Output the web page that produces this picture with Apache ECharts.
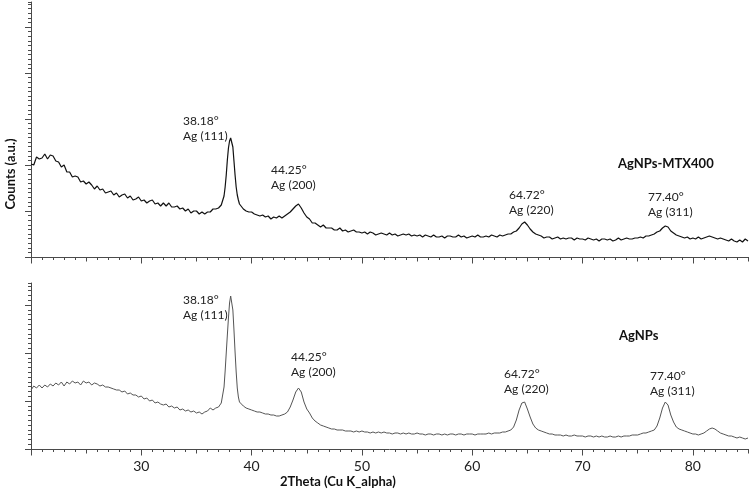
<!DOCTYPE html>
<html>
<head>
<meta charset="utf-8">
<script src="https://cdn.jsdelivr.net/npm/echarts@6/dist/echarts.min.js"></script>
<style>html,body{margin:0;padding:0;background:#fff}#c{width:756px;height:492px}</style>
</head>
<body>
<div id="c"></div>
<script>
// 2Theta positions (degrees)
const twoTheta = [
20.00,20.25,20.50,20.75,
21.00,21.25,21.50,21.75,
22.00,22.25,22.50,22.75,
23.00,23.25,23.50,23.75,
24.00,24.25,24.50,24.75,
25.00,25.25,25.50,25.75,
26.00,26.25,26.50,26.75,
27.00,27.25,27.50,27.75,
28.00,28.25,28.50,28.75,
29.00,29.25,29.50,29.75,
30.00,30.25,30.50,30.75,
31.00,31.25,31.50,31.75,
32.00,32.25,32.50,32.75,
33.00,33.25,33.50,33.75,
34.00,34.25,34.50,34.75,
35.00,35.25,35.50,35.75,
36.00,36.25,36.50,36.75,
37.00,37.25,
37.50,37.60,37.70,37.80,37.90,38.00,38.10,38.20,38.30,38.40,38.50,38.60,38.70,38.80,38.90,39.00,
39.25,39.50,39.75,
40.00,40.25,40.50,40.75,
41.00,41.25,41.50,41.75,
42.00,42.25,42.50,42.75,
43.00,43.25,43.50,43.75,
44.00,44.25,44.50,44.75,
45.00,45.25,45.50,45.75,
46.00,46.25,46.50,46.75,
47.00,47.25,47.50,47.75,
48.00,48.25,48.50,48.75,
49.00,49.25,49.50,49.75,
50.00,50.25,50.50,50.75,
51.00,51.25,51.50,51.75,
52.00,52.25,52.50,52.75,
53.00,53.25,53.50,53.75,
54.00,54.25,54.50,54.75,
55.00,55.25,55.50,55.75,
56.00,56.25,56.50,56.75,
57.00,57.25,57.50,57.75,
58.00,58.25,58.50,58.75,
59.00,59.25,59.50,59.75,
60.00,60.25,60.50,60.75,
61.00,61.25,61.50,61.75,
62.00,62.25,62.50,62.75,
63.00,63.25,63.50,63.75,
64.00,64.25,64.50,64.75,
65.00,65.25,65.50,65.75,
66.00,66.25,66.50,66.75,
67.00,67.25,67.50,67.75,
68.00,68.25,68.50,68.75,
69.00,69.25,69.50,69.75,
70.00,70.25,70.50,70.75,
71.00,71.25,71.50,71.75,
72.00,72.25,72.50,72.75,
73.00,73.25,73.50,73.75,
74.00,74.25,74.50,74.75,
75.00,75.25,75.50,75.75,
76.00,76.25,76.50,76.75,
77.00,77.25,77.50,77.75,
78.00,78.25,78.50,78.75,
79.00,79.25,79.50,79.75,
80.00,80.25,80.50,80.75,
81.00,81.25,81.50,81.75,
82.00,82.25,82.50,82.75,
83.00,83.25,83.50,83.75,
84.00,84.25,84.50,84.75,
85.00
];

// AgNPs-MTX400 counts (a.u.), upper panel
const mtx400Counts = [
93,92,100,98,
99,103,98,102,
101,96,95,90,
92,85,85,80,
81,80,75,76,
73,75,72,68,
71,67,68,64,
65,66,62,64,
60,62,63,59,
61,57,58,60,
56,57,54,56,
57,53,54,51,
54,51,54,50,
50,51,48,49,
46,48,44,46,
46,43,45,43,
45,45,48,48,
49,52,
61,70,82,97,109,116,119,118,110,96,82,70,62,57,53,51,
48,46,45,
45,43,42,41,
42,40,41,38,
40,39,41,39,
41,43,45,48,
51,53,49,44,
40,38,34,34,
32,30,32,29,
29,29,27,27,
29,26,27,25,
26,27,25,25,
24,25,23,25,
24,22,23,24,
23,22,24,22,
23,21,22,23,
22,23,21,22,
21,22,20,22,
21,20,22,20,
20,21,19,21,
21,20,20,22,
20,21,19,20,
21,20,22,20,
20,21,20,22,
21,20,22,21,
22,23,23,25,
26,29,33,35,
32,28,25,23,
22,21,19,20,
20,18,19,20,
18,19,18,19,
19,17,19,18,
18,17,19,18,
17,18,16,18,
18,17,18,16,
17,19,17,18,
19,18,18,19,
19,20,19,21,
21,22,23,25,
26,29,31,30,
26,24,22,21,
20,19,20,18,
19,18,20,18,
19,20,21,20,
19,18,19,18,
17,16,18,16,
15,17,15,18,
16
];

// AgNPs counts (a.u.), lower panel
const agnpsCounts = [
59,63,61,64,
61,64,62,65,
63,66,64,67,
63,67,65,68,
66,67,64,68,
66,67,64,66,
65,63,64,62,
62,61,60,59,
59,57,58,55,
56,54,54,52,
53,50,51,48,
49,46,47,45,
44,45,42,43,
41,42,39,40,
38,39,37,38,
36,37,35,37,
38,41,39,41,
42,46,
62,78,96,114,131,146,153,152,139,119,97,77,61,52,47,45,
43,41,40,
39,38,37,37,
36,35,35,34,
34,33,33,34,
35,37,42,49,
57,61,57,47,
40,36,31,28,
26,24,23,22,
21,20,20,19,
19,19,18,18,
18,17,18,17,
18,17,17,16,
17,16,17,16,
17,16,16,15,
16,16,15,16,
15,16,15,15,
16,15,15,14,
15,15,14,15,
15,14,15,14,
15,15,14,15,
15,14,15,15,
15,14,15,15,
15,15,16,15,
16,16,16,17,
17,18,19,22,
29,39,46,47,
40,32,25,21,
19,18,17,16,
15,15,14,14,
14,13,14,13,
13,14,13,13,
13,12,13,13,
12,13,12,13,
12,12,13,12,
12,13,12,13,
13,13,14,14,
14,15,16,16,
17,18,19,23,
31,41,47,44,
34,27,22,20,
19,18,17,16,
15,15,14,15,
16,18,20,21,
20,18,16,15,
14,13,13,12,
11,12,11,10,
11
];

const xMajorTicks = [20, 30, 40, 50, 60, 70, 80];
const xTickLabels = [30, 40, 50, 60, 70, 80];
const topMajorY = [0, 46, 92, 138, 184, 230];
const botMajorY = [0, 48, 96, 144];

const peakLabels = [
  { deg: '38.18°', hkl: 'Ag (111)', x: 183, y: 121 },
  { deg: '44.25°', hkl: 'Ag (200)', x: 271, y: 170 },
  { deg: '64.72°', hkl: 'Ag (220)', x: 509, y: 195 },
  { deg: '77.40°', hkl: 'Ag (311)', x: 648, y: 197 },
  { deg: '38.18°', hkl: 'Ag (111)', x: 183, y: 300 },
  { deg: '44.25°', hkl: 'Ag (200)', x: 291, y: 357 },
  { deg: '64.72°', hkl: 'Ag (220)', x: 504, y: 374 },
  { deg: '77.40°', hkl: 'Ag (311)', x: 650, y: 376 }
];

const FONT = 'Lato, "Open Sans", sans-serif';
const AX = '#4a4a4a';

function zip(xs, ys) { return xs.map((x, i) => [x, ys[i]]); }

function xAxesFor(grid, labels) {
  const base = { gridIndex: grid, type: 'value', min: 20, max: 85, position: 'bottom',
    splitLine: { show: false }, axisLabel: { show: false } };
  return [
    Object.assign({}, base, { interval: 1,
      axisLine: { show: true, onZero: false, lineStyle: { color: AX, width: 1 } },
      axisTick: { show: true, length: 3, lineStyle: { color: AX } } }),
    Object.assign({}, base, { interval: 5,
      axisLine: { show: false, onZero: false },
      axisTick: { show: true, length: 4.5, lineStyle: { color: AX } } }),
    Object.assign({}, base, { interval: 10,
      axisLine: { show: false, onZero: false },
      axisTick: { show: true, length: 6.5, customValues: xMajorTicks, lineStyle: { color: AX } },
      axisLabel: { show: labels, customValues: xTickLabels, margin: 10, color: '#222',
        fontSize: 14, fontFamily: FONT } })
  ];
}

function yAxesFor(grid, max, minorStep, majors) {
  const base = { gridIndex: grid, type: 'value', min: 0, max: max, position: 'left',
    splitLine: { show: false }, axisLabel: { show: false } };
  return [
    Object.assign({}, base, { interval: minorStep,
      axisLine: { show: true, onZero: false, lineStyle: { color: AX, width: 1 } },
      axisTick: { show: true, length: 3, lineStyle: { color: AX } } }),
    Object.assign({}, base, { interval: majors[1],
      axisLine: { show: false, onZero: false },
      axisTick: { show: true, length: 6, customValues: majors, lineStyle: { color: AX } } })
  ];
}

const graphics = [
  { type: 'text', x: 11, y: 174, rotation: Math.PI / 2,
    style: { text: 'Counts (a.u.)', font: 'bold 13px ' + FONT, fill: '#111', align: 'center', verticalAlign: 'middle' } },
  { type: 'text', x: 280, y: 482,
    style: { text: '2Theta (Cu K_alpha)', font: 'bold 13px ' + FONT, fill: '#111', align: 'left', verticalAlign: 'middle' } },
  { type: 'text', x: 618, y: 164,
    style: { text: 'AgNPs-MTX400', font: 'bold 13px ' + FONT, fill: '#111', align: 'left', verticalAlign: 'middle' } },
  { type: 'text', x: 619, y: 336,
    style: { text: 'AgNPs', font: 'bold 13px ' + FONT, fill: '#111', align: 'left', verticalAlign: 'middle' } }
];
peakLabels.forEach(p => {
  graphics.push({ type: 'text', x: p.x, y: p.y,
    style: { text: p.deg, font: '12px ' + FONT, fill: '#222', align: 'left', verticalAlign: 'middle' } });
  graphics.push({ type: 'text', x: p.x, y: p.y + 15,
    style: { text: p.hkl, font: '12px ' + FONT, fill: '#222', align: 'left', verticalAlign: 'middle' } });
});
if (twoTheta.length !== mtx400Counts.length || twoTheta.length !== agnpsCounts.length) {
  graphics.push({ type: 'text', x: 300, y: 60, style: { text: 'LEN MISMATCH ' + twoTheta.length + ' ' + mtx400Counts.length + ' ' + agnpsCounts.length, fill: 'red', font: '20px sans-serif' } });
}

const chart = echarts.init(document.getElementById('c'), null, { renderer: 'canvas' });
chart.setOption({
  animation: false,
  backgroundColor: '#fff',
  grid: [
    { left: 31, right: 8, top: 2, height: 255 },
    { left: 31, right: 8, top: 283, height: 166 }
  ],
  xAxis: xAxesFor(0, false).concat(xAxesFor(1, true)),
  yAxis: yAxesFor(0, 255, 4.6, topMajorY).concat(yAxesFor(1, 166, 4.8, botMajorY)),
  series: [
    { type: 'line', name: 'AgNPs-MTX400', xAxisIndex: 0, yAxisIndex: 0, data: zip(twoTheta, mtx400Counts),
      showSymbol: false, symbol: 'none', lineStyle: { color: '#111', width: 1.2 } },
    { type: 'line', name: 'AgNPs', xAxisIndex: 3, yAxisIndex: 2, data: zip(twoTheta, agnpsCounts),
      showSymbol: false, symbol: 'none', lineStyle: { color: '#555', width: 1 } }
  ],
  graphic: graphics
});
</script>
</body>
</html>
